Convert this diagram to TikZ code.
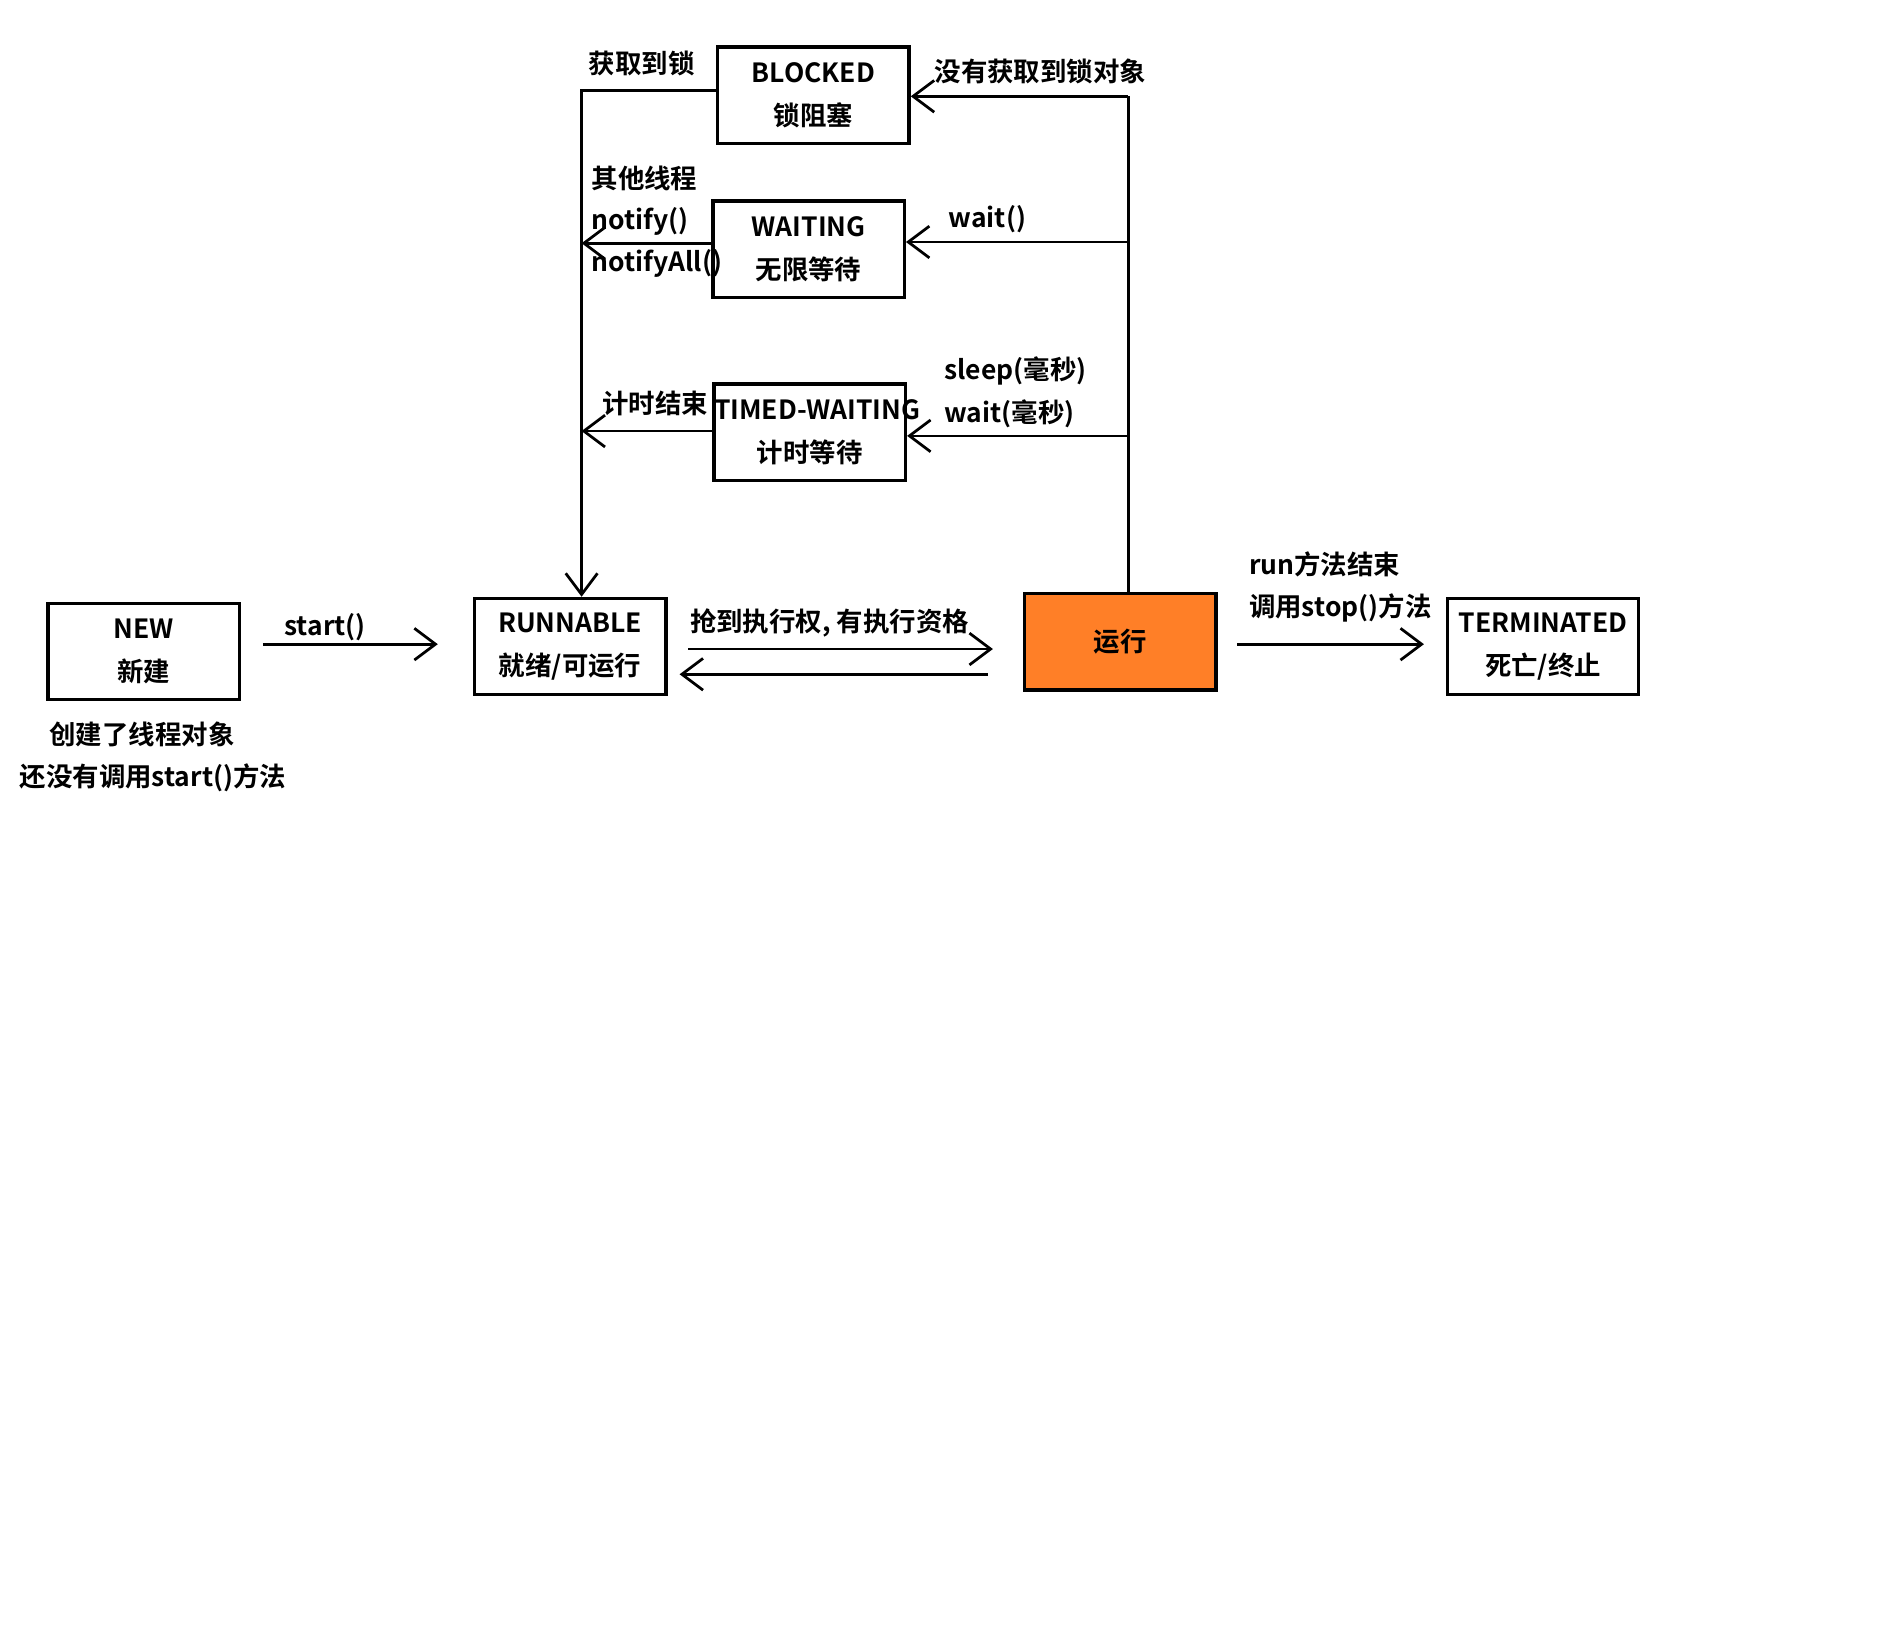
\documentclass[tikz,border=0pt]{standalone}
\usepackage{fontspec}
\setmainfont{Noto Sans CJK SC Bold}
\usepackage{tikz}
\usetikzlibrary{arrows.meta, positioning}
\definecolor{runorange}{HTML}{FF7F27}

\begin{document}
\begin{tikzpicture}[
  x=0.02cm, y=-0.02cm,
  >={Straight Barb[length=10pt, width=15pt]},
  state/.style={
    draw, line width=1.6pt, text width=3.18cm, minimum height=1.6cm,
    inner sep=0pt, align=center, font=\fontsize{12.5}{15}\selectfont
  },
  lbl/.style={inner sep=0pt, font=\fontsize{12.5}{15}\selectfont},
  arr/.style={->, line width=1.3pt},
  wire/.style={line width=1.3pt},
]
\path[use as bounding box] (0,0) rectangle (1568,1365);

% States
\node[state] (blocked)    at (675.5,79)  {BLOCKED\\[5pt]锁阻塞};
\node[state] (waiting)    at (671.5,207) {WAITING\\[5pt]无限等待};
\node[state] (timed)      at (672.5,359) {\mbox{TIMED-WAITING}\\[5pt]计时等待};
\node[state] (new)        at (119.5,541) {NEW\\[5pt]新建};
\node[state] (runnable)   at (473.5,537) {RUNNABLE\\[5pt]就绪/可运行};
\node[state, fill=runorange] (run) at (930.5,533) {运行};
\node[state] (terminated) at (1281.5,537) {TERMINATED\\[5pt]死亡/终止};

% Bends on the two vertical lines
\coordinate (lt) at (483,75);
\coordinate (lw) at (483,202);
\coordinate (lm) at (483,358);
\coordinate (rt) at (937,80);
\coordinate (rw) at (937,201);
\coordinate (rm) at (937,362);

% Back to runnable
\draw[arr] (blocked.west |- lt) -- (lt) -- (lt |- runnable.north);
\draw[arr] (waiting.west |- lw) -- (lw);
\draw[arr] (timed.west |- lm) -- (lm);

% From running
\draw[wire] (run.north -| rt) -- (rt);
\draw[arr] (rt) -- (rt -| blocked.east);
\draw[arr] (rw) -- (rw -| waiting.east);
\draw[arr] (rm) -- (rm -| timed.east);

% Main row
\draw[arr] ([shift={(18,-6)}]new.east) -- ([shift={(-29,-2)}]runnable.west);
\draw[arr] ([shift={(17,2)}]runnable.east) -- ([shift={(-25,6)}]run.west);
\draw[arr] ([shift={(-29,27)}]run.west) -- ([shift={(10,23)}]runnable.east);
\draw[arr] ([shift={(16,2)}]run.east) -- ([shift={(-18,-2)}]terminated.west);

% Labels
\node[lbl] (lbllock)   at (533,53)  {获取到锁};
\node[lbl] (lblnolock) at (864,59)  {没有获取到锁对象};
\node[lbl, anchor=west] (lblother)  at (491,148) {其他线程};
\node[lbl, anchor=west] (lblnotify) at (491,184) {notify()};
\node[lbl, anchor=west] (lblnall)   at (491,219) {notifyAll()};
\node[lbl] (lblwait)   at (820,182) {wait()};
\node[lbl, anchor=west] (lblsleep)  at (784,308) {sleep(毫秒)};
\node[lbl, anchor=west] (lblwaitms) at (784,344) {wait(毫秒)};
\node[lbl] (lbltimeup) at (544,335) {计时结束};
\node[lbl] (lblstart)  at (270,521) {start()};
\node[lbl] (lblcpu)    at (689,517) {抢到执行权, 有执行资格};
\node[lbl, anchor=west] (lblrunend) at (1037,469) {run方法结束};
\node[lbl, anchor=west] (lblstop)   at (1037,505) {调用stop()方法};
\node[lbl] (lblcreate) at (118,610) {创建了线程对象};
\node[lbl] (lblnostart) at (127,646) {还没有调用start()方法};

\end{tikzpicture}
\end{document}
